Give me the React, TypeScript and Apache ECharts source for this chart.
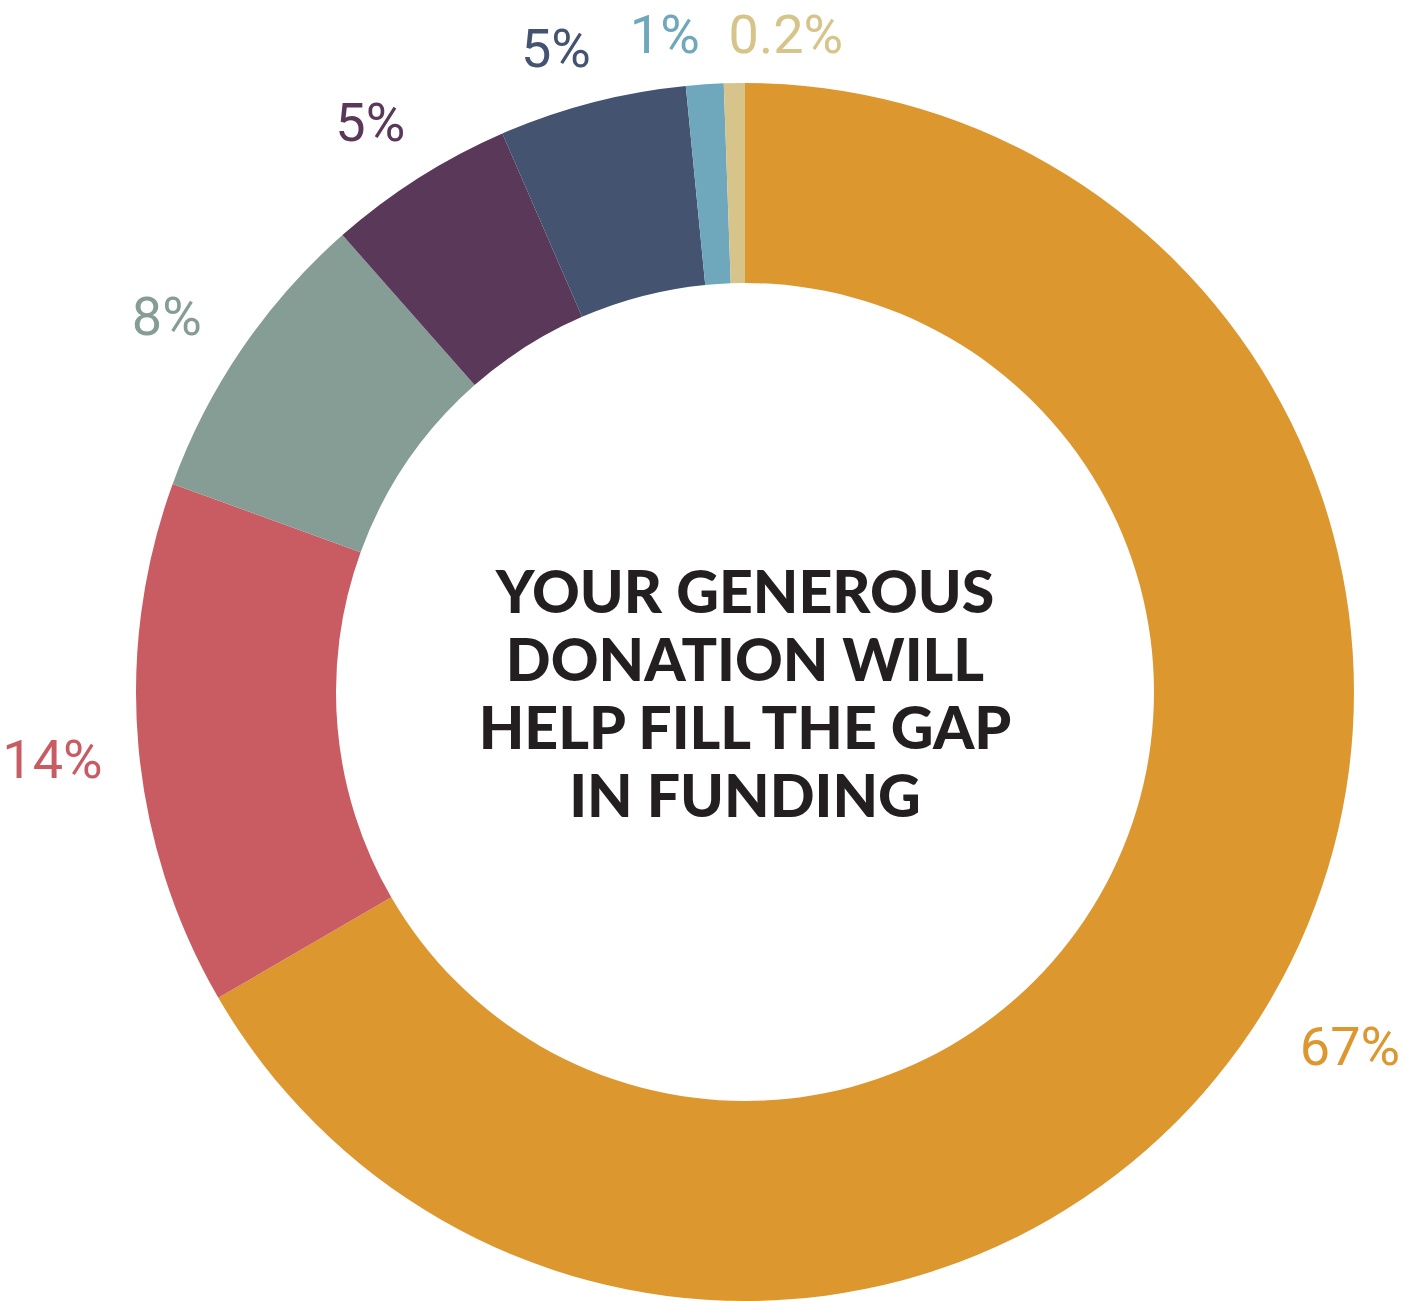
import React, { useEffect, useRef } from "react";
import * as echarts from "echarts";

// ---- data ----
const categories = ["Segment A", "Segment B", "Segment C", "Segment D", "Segment E", "Segment F", "Segment G"];
const values = [67, 14, 8, 5, 5, 1, 0.2];
const colors = ["#DD972F", "#C95C63", "#869D95", "#5A3859", "#44536F", "#6FA8BD", "#D6C48A"];
const centerLines = ["YOUR GENEROUS", "DONATION WILL", "HELP FILL THE GAP", "IN FUNDING"];

// ---- layout / style ----
const CENTER: [number, number] = [745, 692];
const RADIUS: [number, number] = [409, 609];
// small per-label nudges [dx, dy, align?]
const LABEL_NUDGE: Array<[number, number, string?]> = [
  [-17, 28],
  [14, 10],
  [2, -7],
  [16, -17],
  [15, -10],
  [3, -5],
  [0, -4, "left"],
];

export default function App() {
  const ref = useRef<HTMLDivElement>(null);
  useEffect(() => {
    if (!ref.current) return;
    const chart = echarts.init(ref.current, undefined, { renderer: "svg" });
    chart.setOption({
      animation: false,
      backgroundColor: "#ffffff",
      series: [
        {
          type: "pie",
          center: CENTER,
          radius: RADIUS,
          startAngle: 90,
          clockwise: true,
          minAngle: 2,
          avoidLabelOverlap: false,
          data: categories.map((name, i) => ({
            name,
            value: values[i],
            itemStyle: { color: colors[i] },
            label: { color: colors[i] },
          })),
          itemStyle: { borderWidth: 0 },
          label: {
            show: true,
            position: "outside",
            formatter: (p: any) => `${p.value}%`,
            fontFamily: "Roboto",
            fontSize: 54,
            fontWeight: 400,
            lineHeight: 54,
          },
          labelLine: { show: false, length: 45, length2: 0 },
          labelLayout: (params: any) => {
            const n = LABEL_NUDGE[params.dataIndex] || [0, 0];
            const out: any = { dx: n[0], dy: n[1] };
            if (n[2]) out.align = n[2];
            return out;
          },
          emphasis: { disabled: true },
        },
      ],
      graphic: [
        {
          type: "text",
          x: CENTER[0],
          y: CENTER[1],
          style: {
            text: centerLines.join("\n"),
            fontFamily: "Lato",
            fontWeight: 900,
            fontSize: 59,
            lineHeight: 68,
            fill: "#231F20",
            align: "center",
            verticalAlign: "middle",
            textAlign: "center",
            textVerticalAlign: "middle",
          },
        },
      ],
    });
    return () => chart.dispose();
  }, []);
  return (
    <div
      ref={ref}
      style={{ position: "absolute", left: 0, top: 0, width: 1404, height: 1301 }}
    />
  );
}
